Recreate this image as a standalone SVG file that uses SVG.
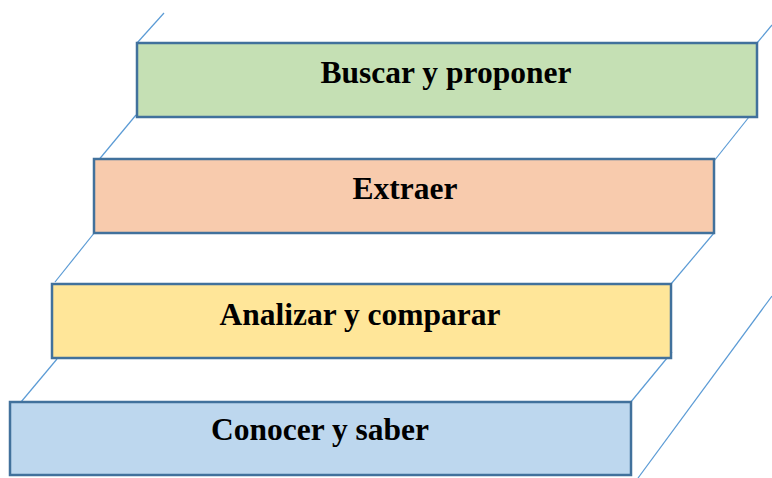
<svg xmlns="http://www.w3.org/2000/svg" width="772" height="478" viewBox="0 0 772 478">
<style>
.box{stroke:#41719C;stroke-width:2.5}
.lbl{font-family:"Liberation Serif","Times New Roman",serif;font-weight:bold;font-size:31.5px;fill:#000;text-anchor:middle}
.ln{stroke:#5B9BD5;stroke-width:1.2;fill:none}
</style>
<rect width="772" height="478" fill="#fff"/>
<g id="connectors">
<line class="ln" x1="137" y1="43" x2="164" y2="13"/>
<line class="ln" x1="757" y1="43" x2="772" y2="25"/>
<line class="ln" x1="136" y1="115" x2="97" y2="162"/>
<line class="ln" x1="749" y1="117" x2="710" y2="166"/>
<line class="ln" x1="99" y1="227" x2="55" y2="282"/>
<line class="ln" x1="714" y1="233" x2="671" y2="284"/>
<line class="ln" x1="57" y1="359" x2="16" y2="408"/>
<line class="ln" x1="672" y1="352" x2="630" y2="403"/>
<line class="ln" x1="772" y1="296" x2="638" y2="478"/>
</g>
<g id="buscar">
<rect class="box" x="137" y="43" width="620" height="74" fill="#C5E0B4"/>
<text class="lbl" x="446" y="83">Buscar y proponer</text>
</g>
<g id="extraer">
<rect class="box" x="94" y="159" width="620" height="74" fill="#F8CBAD"/>
<text class="lbl" x="405" y="199">Extraer</text>
</g>
<g id="analizar">
<rect class="box" x="52" y="284" width="619" height="74" fill="#FFE699"/>
<text class="lbl" x="360" y="325">Analizar y comparar</text>
</g>
<g id="conocer">
<rect class="box" x="10" y="402" width="621" height="73" fill="#BDD7EE"/>
<text class="lbl" x="320" y="440">Conocer y saber</text>
</g>
</svg>
